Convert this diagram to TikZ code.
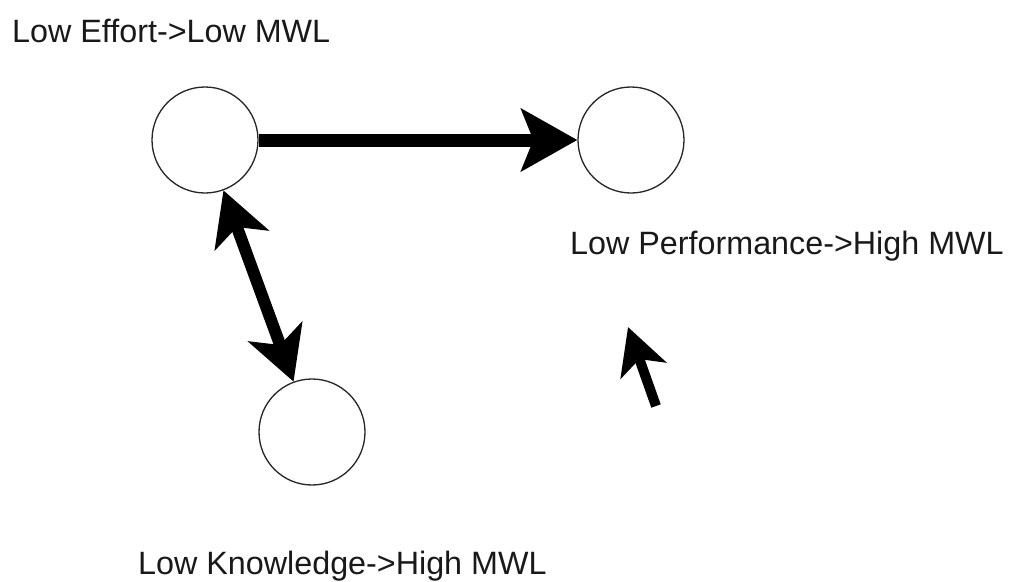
\documentclass[tikz,border=0pt]{standalone}
\usepackage{fontspec}
\setmainfont{Liberation Sans}
\usetikzlibrary{arrows.meta}
\begin{document}
\begin{tikzpicture}[x=1pt,y=-1pt,
  state/.style={circle,draw=black!85,line width=1.3pt,minimum size=106pt,inner sep=0pt,fill=white},
  caption/.style={anchor=base west,inner sep=0pt,font=\fontsize{32.3}{36}\selectfont,text=black!90},
  bigarrow/.style={line width=13pt,-{Stealth[length=56pt,width=62pt,inset=12pt]}},
  twoway/.style={line width=12pt,{Stealth[length=53pt,width=57pt,inset=14pt]}-{Stealth[length=53pt,width=57pt,inset=14pt]}},
  smallarrow/.style={line width=10pt,-{Stealth[length=46pt,width=48pt,inset=12pt]}}]
\useasboundingbox[fill=white] (0,0) rectangle (1011,581);

% states
\node[state] (effort) at (205,140) {};
\node[state] (perf) at (631,140) {};
\node[state] (know) at (312,432) {};

% labels
\node[caption] (leffort) at (12,42) {Low Effort->Low MWL};
\node[caption] (lperf) at (570,254) {Low Performance->High MWL};
\node[caption] (lknow) at (138,574) {Low Knowledge->High MWL};

% connectors
\draw[bigarrow] (effort) -- (perf);
\draw[twoway] (effort) -- (know);

% loose arrow
\coordinate (tail) at (656,406);
\coordinate (tip) at (628,327);
\draw[smallarrow] (tail) -- (tip);
\end{tikzpicture}
\end{document}
